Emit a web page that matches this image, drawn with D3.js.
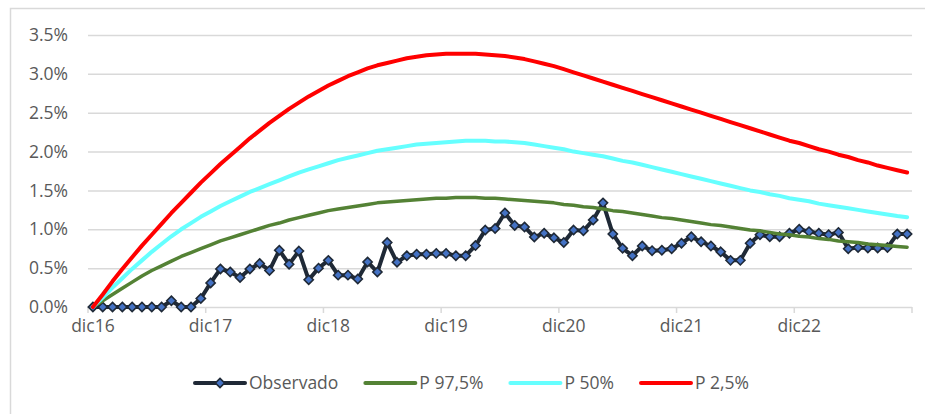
<!DOCTYPE html>
<html>
<head>
<meta charset="utf-8">
<script src="https://cdn.jsdelivr.net/npm/d3@7"></script>
<style>
  body { margin: 0; background: #fff; }
  svg { display: block; font-family: 'Open Sans', sans-serif; }
</style>
</head>
<body>
<svg id="chart" width="925" height="414"></svg>
<script>
const MONTHS = ['ene', 'feb', 'mar', 'abr', 'may', 'jun', 'jul', 'ago', 'sep', 'oct', 'nov', 'dic'];
const START_YEAR = 16;
const N_MONTHS = 84;

// monthly categories dic16 .. nov23
const categories = [];
for (let i = 0; i < N_MONTHS; i++) {
    const m = (11 + i) % 12;
    const y = START_YEAR + Math.floor((11 + i) / 12);
    categories.push(MONTHS[m] + y);
}

const yTicks = [0, 0.005, 0.01, 0.015, 0.02, 0.025, 0.03, 0.035];

// values in %
const observado = [
    0, 0, 0, 0, 0, 0, 0, 0, 0.08, 0, 0, 0.11,
    0.31, 0.49, 0.45, 0.38, 0.49, 0.56, 0.47, 0.73, 0.55, 0.72, 0.35, 0.50,
    0.60, 0.41, 0.41, 0.36, 0.58, 0.45, 0.83, 0.575, 0.66, 0.68, 0.68, 0.69,
    0.69, 0.66, 0.66, 0.79, 0.99, 1.01, 1.21, 1.05, 1.03, 0.90, 0.95, 0.89,
    0.83, 0.99, 0.98, 1.12, 1.34, 0.94, 0.755, 0.66, 0.785, 0.725, 0.73, 0.75,
    0.82, 0.905, 0.84, 0.785, 0.71, 0.60, 0.60, 0.82, 0.93, 0.905, 0.905, 0.95,
    1.00, 0.97, 0.95, 0.93, 0.96, 0.75, 0.765, 0.76, 0.76, 0.765, 0.94, 0.94
];

const p975 = [
    0, 0.08, 0.16, 0.24, 0.32, 0.40, 0.47, 0.53, 0.59, 0.65, 0.70, 0.75,
    0.80, 0.85, 0.89, 0.93, 0.97, 1.01, 1.05, 1.08, 1.12, 1.15, 1.18, 1.21,
    1.24, 1.26, 1.28, 1.30, 1.32, 1.34, 1.35, 1.36, 1.37, 1.38, 1.39, 1.40,
    1.40, 1.41, 1.41, 1.41, 1.40, 1.40, 1.39, 1.38, 1.37, 1.36, 1.35, 1.34,
    1.32, 1.31, 1.29, 1.28, 1.26, 1.24, 1.23, 1.21, 1.19, 1.17, 1.15, 1.14,
    1.12, 1.10, 1.08, 1.06, 1.05, 1.03, 1.01, 0.99, 0.98, 0.96, 0.94, 0.93,
    0.91, 0.90, 0.88, 0.87, 0.85, 0.84, 0.83, 0.81, 0.80, 0.79, 0.78, 0.77
];

const p50 = [
    0, 0.12, 0.25, 0.37, 0.49, 0.60, 0.71, 0.81, 0.91, 1.00, 1.08, 1.16,
    1.23, 1.30, 1.36, 1.42, 1.48, 1.53, 1.58, 1.63, 1.68, 1.73, 1.77, 1.81,
    1.85, 1.89, 1.92, 1.95, 1.98, 2.01, 2.03, 2.05, 2.07, 2.09, 2.10, 2.11,
    2.12, 2.13, 2.14, 2.14, 2.14, 2.13, 2.13, 2.12, 2.11, 2.09, 2.07, 2.05,
    2.03, 2.00, 1.98, 1.96, 1.94, 1.91, 1.88, 1.86, 1.83, 1.80, 1.77, 1.74,
    1.71, 1.68, 1.65, 1.62, 1.59, 1.56, 1.53, 1.50, 1.48, 1.45, 1.43, 1.40,
    1.38, 1.36, 1.33, 1.31, 1.29, 1.27, 1.25, 1.23, 1.21, 1.19, 1.17, 1.155
];

const p025 = [
    0, 0.16, 0.33, 0.49, 0.64, 0.79, 0.93, 1.07, 1.21, 1.34, 1.47, 1.60,
    1.72, 1.84, 1.95, 2.06, 2.17, 2.27, 2.37, 2.46, 2.55, 2.63, 2.71, 2.78,
    2.85, 2.91, 2.97, 3.02, 3.07, 3.11, 3.14, 3.17, 3.20, 3.22, 3.24, 3.25,
    3.26, 3.26, 3.26, 3.26, 3.25, 3.24, 3.23, 3.21, 3.19, 3.16, 3.13, 3.10,
    3.06, 3.02, 2.98, 2.94, 2.90, 2.86, 2.82, 2.78, 2.74, 2.70, 2.66, 2.62,
    2.58, 2.54, 2.50, 2.46, 2.42, 2.38, 2.34, 2.30, 2.26, 2.22, 2.18, 2.14,
    2.11, 2.07, 2.03, 2.00, 1.96, 1.93, 1.89, 1.86, 1.82, 1.79, 1.76, 1.73
];

const series = [
    { name: 'Observado', values: observado, color: '#1f2936', width: 4, marker: true },
    { name: 'P 97,5%', values: p975, color: '#548235', width: 3.5 },
    { name: 'P 50%', values: p50, color: '#66ffff', width: 4 },
    { name: 'P 2,5%', values: p025, color: '#ff0000', width: 4 }
];

const svg = d3.select('#chart');
const TEXT_COLOR = '#595959';
const GRID_COLOR = '#d9d9d9';

// chart area border
svg.append('rect')
    .attr('x', 10.5).attr('y', 8.5)
    .attr('width', 940).attr('height', 420)
    .attr('fill', 'none')
    .attr('stroke', GRID_COLOR)
    .attr('stroke-width', 1.5);

const x = d3.scaleBand()
    .domain(categories)
    .range([88, 912])
    .padding(0);
const y = d3.scaleLinear()
    .domain([0, 0.035])
    .range([307, 35]);

const cx = (c) => x(c) + x.bandwidth() / 2;

// horizontal gridlines + y labels
const yAxis = d3.axisLeft(y)
    .tickValues(yTicks)
    .tickFormat(d3.format('.1%'))
    .tickSize(-(912 - 88))
    .tickPadding(20);
svg.append('g')
    .attr('transform', 'translate(88,0)')
    .call(yAxis)
    .call(g => g.select('.domain').remove())
    .call(g => g.selectAll('line').attr('stroke', GRID_COLOR).attr('stroke-width', 1.5))
    .call(g => g.selectAll('text')
        .attr('fill', TEXT_COLOR)
        .style('font-size', '17.5px')
        .style('font-family', "'Open Sans', sans-serif"));

// x axis: tick marks at year boundaries, labels on december
const xg = svg.append('g');
const yearCats = categories.filter((c, i) => i % 12 === 0);
const tickXs = yearCats.map(c => x(c)).concat([912]);
xg.selectAll('line.tick')
    .data(tickXs)
    .join('line')
    .attr('class', 'tick')
    .attr('x1', d => d).attr('x2', d => d)
    .attr('y1', 307).attr('y2', 313)
    .attr('stroke', GRID_COLOR)
    .attr('stroke-width', 1.5);
xg.selectAll('text')
    .data(yearCats)
    .join('text')
    .attr('x', d => cx(d))
    .attr('y', 332)
    .attr('text-anchor', 'middle')
    .attr('fill', TEXT_COLOR)
    .style('font-size', '17.5px')
    .text(d => d);

// lines
const line = d3.line()
    .x((d, i) => cx(categories[i]))
    .y(d => y(d / 100));

const diamond = (r) => `M0,${-r}L${r},0L0,${r}L${-r},0Z`;

series.forEach(s => {
    svg.append('path')
        .datum(s.values)
        .attr('d', line)
        .attr('fill', 'none')
        .attr('stroke', s.color)
        .attr('stroke-width', s.width)
        .attr('stroke-linejoin', 'round')
        .attr('stroke-linecap', 'round');
    if (s.marker) {
        svg.append('g')
            .selectAll('path')
            .data(s.values)
            .join('path')
            .attr('transform', (d, i) => `translate(${cx(categories[i])},${y(d / 100)})`)
            .attr('d', diamond(4.6))
            .attr('fill', '#4472c4')
            .attr('stroke', s.color)
            .attr('stroke-width', 1.6);
    }
});

// legend
const legend = svg.append('g').attr('transform', 'translate(195,383)');
let lx = 0;
series.forEach(s => {
    const item = legend.append('g').attr('transform', `translate(${lx},0)`);
    item.append('line')
        .attr('x1', 0).attr('x2', 50)
        .attr('y1', 0).attr('y2', 0)
        .attr('stroke', s.color)
        .attr('stroke-width', 4)
        .attr('stroke-linecap', 'round');
    if (s.marker) {
        item.append('path')
            .attr('transform', 'translate(25,0)')
            .attr('d', diamond(4.6))
            .attr('fill', '#4472c4')
            .attr('stroke', s.color)
            .attr('stroke-width', 1.6);
    }
    const t = item.append('text')
        .attr('x', 54)
        .attr('y', 0)
        .attr('dy', '0.35em')
        .attr('fill', TEXT_COLOR)
        .style('font-size', '17.5px')
        .text(s.name);
    lx += 54 + t.node().getComputedTextLength() + 27;
});
</script>
</body>
</html>
